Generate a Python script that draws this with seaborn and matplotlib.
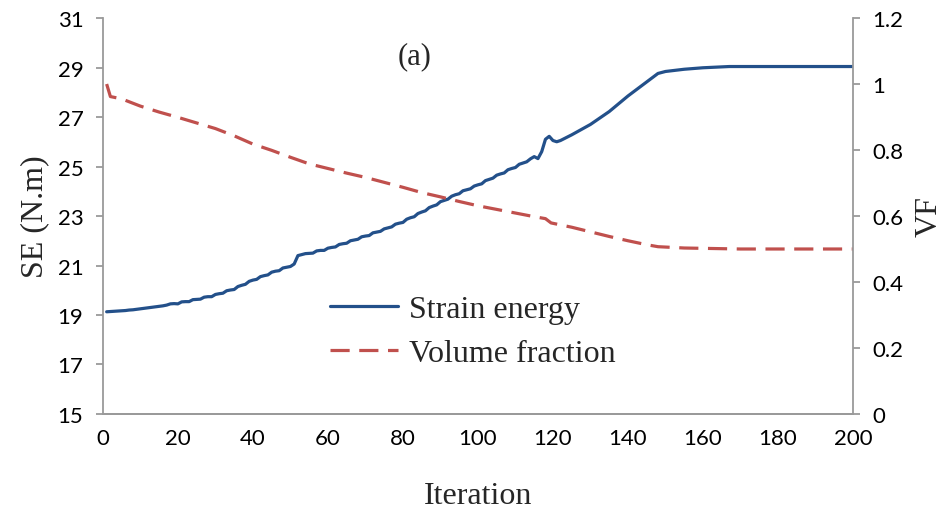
import numpy as np
import pandas as pd
import matplotlib
matplotlib.use("Agg")
import matplotlib.pyplot as plt
import seaborn as sns

# strain energy (left axis)
se_iter = list(range(1, 123)) + [125, 130, 135, 140, 145, 148, 150, 155, 160, 167, 180, 200]
se_vals = [19.13, 19.14, 19.15, 19.16, 19.17, 19.18, 19.20, 19.21, 19.23, 19.25,
           19.27, 19.29, 19.31, 19.33, 19.35, 19.37, 19.40, 19.45, 19.46, 19.45,
           19.53, 19.54, 19.54, 19.62, 19.63, 19.64, 19.72, 19.74, 19.74, 19.83,
           19.86, 19.88, 19.98, 20.01, 20.03, 20.15, 20.20, 20.24, 20.36, 20.41,
           20.44, 20.55, 20.59, 20.62, 20.73, 20.77, 20.79, 20.90, 20.93, 20.96,
           21.06, 21.40, 21.44, 21.48, 21.49, 21.50, 21.59, 21.61, 21.61, 21.70,
           21.73, 21.75, 21.85, 21.88, 21.90, 22.00, 22.03, 22.06, 22.16, 22.19,
           22.21, 22.32, 22.35, 22.38, 22.48, 22.52, 22.56, 22.67, 22.71, 22.74,
           22.87, 22.93, 22.97, 23.10, 23.16, 23.21, 23.34, 23.40, 23.45, 23.58,
           23.63, 23.68, 23.80, 23.86, 23.90, 24.02, 24.06, 24.10, 24.21, 24.26,
           24.30, 24.43, 24.48, 24.53, 24.65, 24.70, 24.74, 24.87, 24.92, 24.96,
           25.09, 25.14, 25.19, 25.31, 25.40, 25.32, 25.60, 26.10, 26.22, 26.05,
           26.00, 26.05,
           26.28, 26.70, 27.22, 27.85, 28.42, 28.76, 28.84, 28.93, 28.99, 29.04, 29.04, 29.04]

# volume fraction (right axis)
vf_iter = [1, 2, 5, 10, 15, 20, 25, 30, 35, 40, 45, 50, 55, 60, 65, 70, 75, 80, 85, 90,
           95, 100, 105, 110, 115, 118, 119.5, 125, 130, 135, 140, 145, 148, 155, 170, 200]
vf_vals = [1.00, 0.962, 0.955, 0.933, 0.915, 0.899, 0.882, 0.865, 0.843, 0.818, 0.799,
           0.778, 0.758, 0.744, 0.730, 0.717, 0.702, 0.687, 0.671, 0.658, 0.644, 0.631,
           0.620, 0.609, 0.598, 0.592, 0.579, 0.566, 0.552, 0.538, 0.525, 0.513, 0.507,
           0.503, 0.500, 0.500]

x_ticks = list(range(0, 201, 20))
se_ticks = list(range(15, 32, 2))
vf_ticks = [0, 0.2, 0.4, 0.6, 0.8, 1, 1.2]
vf_labels = ["0", "0.2", "0.4", "0.6", "0.8", "1", "1.2"]

se_df = pd.DataFrame({"Iteration": se_iter, "SE": se_vals})
vf_df = pd.DataFrame({"Iteration": vf_iter, "VF": vf_vals})

sns.set_style("white")
plt.rcParams["font.family"] = ["Lato", "DejaVu Sans"]

blue = "#23508A"
red = "#C0504D"
grey = "#9A9A9A"
serif = "Liberation Serif"

fig = plt.figure(figsize=(9.44, 5.10), dpi=100)
ax = fig.add_axes([0.109, 0.1863, 0.7946, 0.7764])
ax2 = ax.twinx()

sns.lineplot(data=se_df, x="Iteration", y="SE", ax=ax, color=blue, lw=2.3,
             label="Strain energy", legend=False)
sns.lineplot(data=vf_df, x="Iteration", y="VF", ax=ax2, color=red, lw=2.3,
             dashes=False, label="Volume fraction", legend=False)
ax2.lines[0].set_dashes((6, 3))

ax.set_xlim(0, 200)
ax.set_ylim(15, 31)
ax2.set_ylim(0, 1.2)
ax.set_xticks(x_ticks)
ax.set_yticks(se_ticks)
ax2.set_yticks(vf_ticks)
ax2.set_yticklabels(vf_labels)

for a in (ax, ax2):
    for s in a.spines.values():
        s.set_color(grey)
        s.set_linewidth(1.3)
    a.spines["top"].set_visible(False)
    a.tick_params(colors=grey, labelcolor="black", length=5, width=1.3,
                  labelsize=16, direction="out", pad=9)
ax.spines["right"].set_visible(False)
ax2.spines["left"].set_visible(False)
ax.tick_params(axis="x", pad=5)

ax.set_xlabel("Iteration", family=serif, fontsize=23, labelpad=24)
ax.set_ylabel("SE (N.m)", family=serif, fontsize=23, labelpad=6)
ax2.set_ylabel("VF", family=serif, fontsize=23, labelpad=8)

ax.text(0.393, 0.885, "(a)", transform=ax.transAxes, family=serif, fontsize=22)

h1, l1 = ax.get_legend_handles_labels()
h2, l2 = ax2.get_legend_handles_labels()
ax2.legend(h1 + h2, l1 + l2, loc="upper left", bbox_to_anchor=(0.265, 0.373),
           frameon=False, prop={"family": serif, "size": 23},
           handlelength=2.1, handletextpad=0.35, labelspacing=0.45)

fig.savefig("out.png", dpi=100)
